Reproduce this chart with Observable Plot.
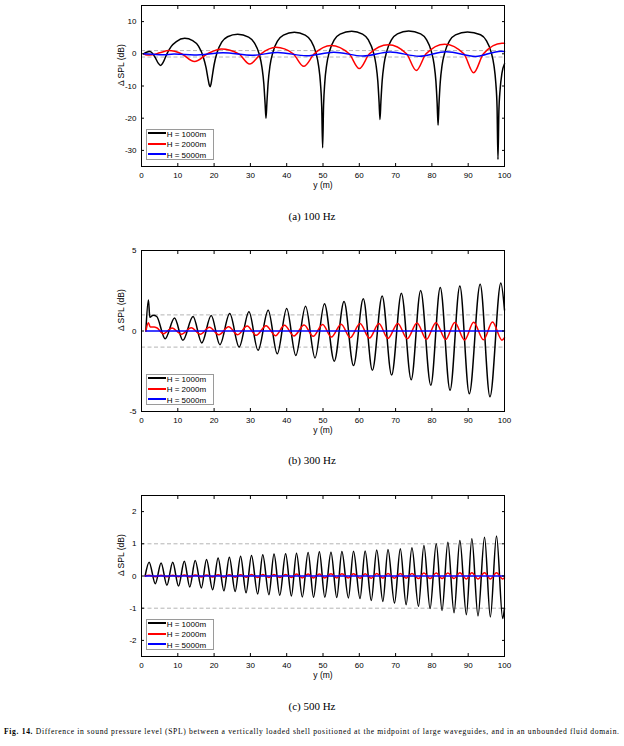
<!DOCTYPE html>
<html><head><meta charset="utf-8">
<script src="https://cdn.jsdelivr.net/npm/d3@7"></script>
<script src="https://cdn.jsdelivr.net/npm/@observablehq/plot@0.6"></script>
<style>
body{margin:0;background:#fff;}
#page{position:relative;width:624px;height:746px;overflow:hidden;background:#fff;font-family:"Liberation Sans",Arial,sans-serif;}
.panel{position:absolute;left:0;}
.legend{position:absolute;left:146px;width:66px;height:29px;border:1px solid #9a9a9a;background:#fff;font-size:8px;color:#000;}
.row{position:absolute;left:0.7px;height:10px;line-height:10px;white-space:nowrap;}
.sw{display:inline-block;width:18px;height:2px;vertical-align:middle;margin-right:1px;position:relative;top:-1px;}
.cap{position:absolute;left:0;width:624px;text-align:center;font-family:"Liberation Serif","Times New Roman",serif;font-size:11px;line-height:13px;color:#000;}
</style></head>
<body><div id="page"></div>
<script>
// ---------- data ----------
const xTicks = [0,10,20,30,40,50,60,70,80,90,100];
const aYTicks = [-30,-20,-10,0,10];
const bYTicks = [-5,0,5];
const cYTicks = [-2,-1,0,1,2];
const seriesNames = ["H = 1000m","H = 2000m","H = 5000m"];
const seriesColors = ["#000000","#ff0000","#0000ff"];
const panelCaptions = ["(a) 100 Hz","(b) 300 Hz","(c) 500 Hz"];
const figLabel = "Fig. 14.";
const figText = " Difference in sound pressure level (SPL) between a vertically loaded shell positioned at the midpoint of large waveguides, and in an unbounded fluid domain.";

// (a) 100 Hz
const a1000 = [[0.6,0],[1.4,0.5],[2.2,0.7],[3.0,0.2],[3.8,-1.2],[4.6,-2.9],[5.3,-3.6],[6.0,-2.6],[7.0,0],[8.2,2.3],[9.6,3.8],[11.9,4.8],
 [14.1,4.1],[15.7,2.35],[17.0,-0.9],[17.8,-4.4],[18.3,-7.6],[18.65,-9.6],[18.9,-10.2],[19.15,-9.4],[19.5,-6.9],[20.0,-3.4],[20.8,0.3],[22.1,3.6],[23.7,5.3],[26.5,6.1],
 [29.5,5.2],[31.1,3.4],[32.4,0],[33.2,-4.3],[33.7,-9.3],[34.05,-15.5],[34.3,-20.0],[34.55,-15.1],[34.9,-8.8],[35.4,-3.7],[36.2,0.5],[37.5,4.0],[39.1,5.8],[42.1,6.7],
 [45.1,5.8],[46.7,4.0],[48.0,0.5],[48.8,-3.8],[49.3,-9.1],[49.65,-16.5],[49.9,-29.2],[50.15,-16.3],[50.5,-8.8],[51.0,-3.5],[51.8,0.8],[53.1,4.3],[54.7,6.1],[57.9,7.0],
 [60.9,6.1],[62.5,4.3],[63.8,0.8],[64.6,-3.4],[65.1,-8.5],[65.45,-15.0],[65.7,-20.4],[65.95,-14.9],[66.3,-8.4],[66.8,-3.3],[67.6,0.9],[68.9,4.4],[70.5,6.2],[73.6,7.1],
 [76.9,6.2],[78.5,4.4],[79.8,0.9],[80.6,-3.3],[81.1,-8.5],[81.45,-15.4],[81.7,-22.2],[81.95,-15.7],[82.3,-8.8],[82.8,-3.6],[83.6,0.6],[84.9,4.1],[86.5,5.9],[89.8,6.8],
 [93.4,5.9],[95.0,4.1],[96.3,0.6],[97.1,-3.7],[97.6,-9.0],[97.95,-16.6],[98.2,-32.8],[98.45,-18],[98.8,-11],[99.3,-6],[100,-3.1]];
const a2000 = [[0.6,0],[1.5,-0.4],[3.0,-0.3],[5.0,0.3],[7.6,1.0],[11.0,0],[14.6,-2.4],[18.2,0],[22.0,1.5],[26.8,0],[29.8,-3.2],[32.9,0],[37.0,2.0],[41.8,0],[44.7,-3.9],[47.6,0],[52.2,2.6],[57.2,0],[60.0,-4.6],[62.8,0],[68.0,2.8],[73.0,0],[75.7,-5.2],[78.4,0],[83.5,3.0],[88.8,0],[91.5,-5.9],[94.2,0],[99.3,3.3],[100,3.25]];
const a5000 = [[0.6,0],[3,-0.15],[6,-0.3],[9,-0.1],[14.5,-0.4],[22.5,0.3],[30.5,-0.45],[37.5,0.4],[45.5,-0.6],[53,0.5],[61,-0.7],[68.5,0.55],[76.5,-0.75],[84,0.65],[92,-0.8],[99,0.8],[100,0.75]];

// (b) 300 Hz
const b1000 = [[1.2,0],[1.9,1.92],[2.3,0.85],[3.2,0.98],[4.2,0.9],[6.5,-0.48],[9.1,0.8],[11.4,-0.58],[14.2,0.9],[16.6,-0.74],[19.2,0.96],[21.6,-0.85],[24.3,1.08],[26.9,-1.0],[29.6,1.19],[32.1,-1.2],[34.9,1.29],[37.4,-1.42],[40.0,1.40],[42.5,-1.52],[45.2,1.54],[47.8,-1.67],[50.4,1.7],[53.1,-1.88],[55.8,1.83],[58.4,-2.15],[61.1,2.0],[63.6,-2.44],[66.3,2.18],[68.9,-2.74],[71.6,2.35],[74.3,-3.03],[76.9,2.52],[79.7,-3.37],[82.3,2.7],[85.0,-3.68],[87.7,2.8],[90.3,-3.9],[93.3,2.91],[96.0,-4.08],[99.0,2.98],[100,1.3]];
const b2000 = [[1.2,0],[1.9,0.52],[2.4,0.25],[3.5,0.25],[4.2,0.2],[6.1,-0.17],[8.4,0.19],[11.0,-0.2],[13.7,0.2],[16.2,-0.2],[18.7,0.23],[21.3,-0.23],[24.0,0.27],[26.5,-0.23],[29.1,0.31],[31.6,-0.27],[34.3,0.33],[36.9,-0.29],[39.4,0.35],[42.0,-0.31],[44.8,0.37],[47.3,-0.33],[49.9,0.41],[52.3,-0.38],[55.0,0.42],[57.5,-0.42],[60.2,0.46],[62.8,-0.44],[65.4,0.46],[67.9,-0.46],[70.6,0.47],[73.2,-0.48],[75.9,0.5],[78.5,-0.52],[81.1,0.52],[83.8,-0.53],[86.3,0.53],[89.0,-0.56],[91.5,0.54],[94.2,-0.55],[96.7,0.56],[99.3,-0.57],[100,-0.42]];
const b5000 = [[1.2,0],[100,0]];

// (c) 500 Hz
const c1000 = [[1.0,0],[2.1,0.43],[3.8,-0.24],[5.4,0.40],[7.0,-0.29],[8.6,0.43],[10.2,-0.31],[11.8,0.46],[13.3,-0.34],[14.8,0.48],[16.5,-0.37],[17.9,0.51],[19.6,-0.43],[21.1,0.56],[22.7,-0.46],[24.2,0.58],[25.8,-0.48],[27.3,0.61],[28.8,-0.52],[30.3,0.64],[32.0,-0.56],[33.4,0.66],[35.1,-0.58],[36.5,0.68],[38.1,-0.60],[39.7,0.69],[41.3,-0.62],[42.7,0.71],[44.3,-0.65],[45.9,0.73],[47.4,-0.66],[49.0,0.75],[50.5,-0.66],[52.2,0.74],[53.8,-0.67],[55.2,0.76],[57.0,-0.68],[58.4,0.77],[60.2,-0.70],[61.6,0.78],[63.3,-0.76],[64.8,0.81],[66.5,-0.79],[67.9,0.82],[69.7,-0.84],[71.3,0.85],[72.9,-0.89],[74.5,0.88],[76.3,-0.94],[77.8,0.95],[79.5,-1.01],[81.2,1.0],[82.8,-1.07],[84.4,1.05],[86.1,-1.14],[87.7,1.1],[89.5,-1.2],[91.0,1.16],[92.7,-1.24],[94.5,1.2],[96.1,-1.27],[97.8,1.24],[99.5,-1.32],[100,-1.0]];
const c2000 = [[1,0],[2.1,0.02],[3.8,-0.02],[5.4,0.02],[7.0,-0.02],[8.6,0.02],[10.2,-0.02],[11.8,0.03],[13.3,-0.03],[14.8,0.03],[16.5,-0.03],[17.9,0.03],[19.6,-0.03],[21.1,0.04],[22.7,-0.04],[24.2,0.04],[25.8,-0.04],[27.3,0.04],[28.8,-0.04],[30.3,0.05],[32.0,-0.05],[33.4,0.05],[35.1,-0.05],[36.5,0.05],[38.1,-0.05],[39.7,0.05],[41.3,-0.05],[42.7,0.06],[44.3,-0.06],[45.9,0.06],[47.4,-0.06],[49.0,0.06],[50.5,-0.06],[52.2,0.07],[53.8,-0.06],[55.2,0.07],[57.0,-0.06],[58.4,0.07],[60.2,-0.07],[61.6,0.07],[63.3,-0.07],[64.8,0.08],[66.5,-0.07],[67.9,0.08],[69.7,-0.07],[71.3,0.08],[72.9,-0.07],[74.5,0.08],[76.3,-0.08],[77.8,0.09],[79.5,-0.08],[81.2,0.09],[82.8,-0.08],[84.4,0.09],[86.1,-0.08],[87.7,0.1],[89.5,-0.09],[91.0,0.1],[92.7,-0.09],[94.5,0.1],[96.1,-0.09],[97.8,0.1],[99.5,-0.09],[100,-0.06]];
const c5000 = [[1,0],[100,0]];

const panels = [
  {series:[a1000,a2000,a5000], yDomain:[-35,15], yTicks:aYTicks, top:0},
  {series:[b1000,b2000,b5000], yDomain:[-5,5], yTicks:bYTicks, top:245},
  {series:[c1000,c2000,c5000], yDomain:[-2.5,2.5], yTicks:cYTicks, top:490}
];
const captionTops = [210, 454, 699.5];

// ---------- drawing ----------
const page = document.getElementById("page");
const fmt = d => String(d);
const blank = () => "";

panels.forEach((p, i) => {
  const marks = [
    Plot.ruleY([-1, 1], {stroke: "#b4b4b4", strokeWidth: 1, strokeDasharray: "4,2.5"}),
    ...p.series.map((data, k) => Plot.line(data, {x: d => d[0], y: d => d[1], stroke: seriesColors[k], strokeWidth: 1.5, curve: "monotone-x"})),
    Plot.frame({stroke: "#000", strokeWidth: 1}),
    Plot.axisX(xTicks, {tickSize: 0, tickPadding: 6, tickFormat: fmt, label: null, fontSize: 8}),
    Plot.axisX(xTicks, {tickSize: 3, dy: -3, tickFormat: blank, label: null}),
    Plot.axisX(xTicks, {anchor: "top", tickSize: 3, dy: 3, tickFormat: blank, label: null}),
    Plot.axisY(p.yTicks, {tickSize: 0, tickPadding: 5, tickFormat: fmt, label: null, fontSize: 8}),
    Plot.axisY(p.yTicks, {tickSize: 3, dx: 3, tickFormat: blank, label: null}),
    Plot.axisY(p.yTicks, {anchor: "right", tickSize: 3, dx: -3, tickFormat: blank, label: null}),
    Plot.text(["Δ SPL (dB)"], {frameAnchor: "left", dx: -20, rotate: -90, fontSize: 8.5}),
    Plot.text(["y (m)"], {frameAnchor: "bottom", dy: 21, fontSize: 8.5})
  ];
  const chart = Plot.plot({
    width: 624, height: 200,
    marginLeft: 141, marginRight: 120, marginTop: 5, marginBottom: 34,
    x: {domain: [0, 100]},
    y: {domain: p.yDomain},
    style: {fontFamily: '"Liberation Sans", Arial, sans-serif', fontSize: "8px", background: "transparent", color: "#000"},
    marks
  });
  chart.classList.add("panel");
  chart.style.top = p.top + "px";
  page.appendChild(chart);

  const lg = document.createElement("div");
  lg.className = "legend";
  lg.style.top = (p.top + 129) + "px";
  seriesNames.forEach((name, k) => {
    const row = document.createElement("div");
    row.className = "row";
    row.style.top = (k * 10.5 - 0.5) + "px";
    const sw = document.createElement("span");
    sw.className = "sw";
    sw.style.background = seriesColors[k];
    row.appendChild(sw);
    row.appendChild(document.createTextNode(name));
    lg.appendChild(row);
  });
  page.appendChild(lg);

  const cap = document.createElement("div");
  cap.className = "cap";
  cap.style.top = captionTops[i] + "px";
  cap.textContent = panelCaptions[i];
  page.appendChild(cap);
});

// figure caption
const ns = "http://www.w3.org/2000/svg";
const svg = document.createElementNS(ns, "svg");
svg.setAttribute("width", 624); svg.setAttribute("height", 20);
svg.style.position = "absolute"; svg.style.left = "0px"; svg.style.top = "722px";
const t = document.createElementNS(ns, "text");
t.setAttribute("x", 4); t.setAttribute("y", 11.5);
t.setAttribute("textLength", 615); t.setAttribute("lengthAdjust", "spacing");
t.setAttribute("font-family", '"Liberation Serif", "Times New Roman", serif');
t.setAttribute("font-size", "7.6");
t.setAttribute("fill", "#000");
const t1 = document.createElementNS(ns, "tspan"); t1.setAttribute("font-weight", "bold"); t1.textContent = figLabel;
const t2 = document.createElementNS(ns, "tspan"); t2.setAttribute("font-weight", "normal"); t2.textContent = figText;
t.appendChild(t1); t.appendChild(t2);
svg.appendChild(t);
page.appendChild(svg);
</script>
</body></html>
